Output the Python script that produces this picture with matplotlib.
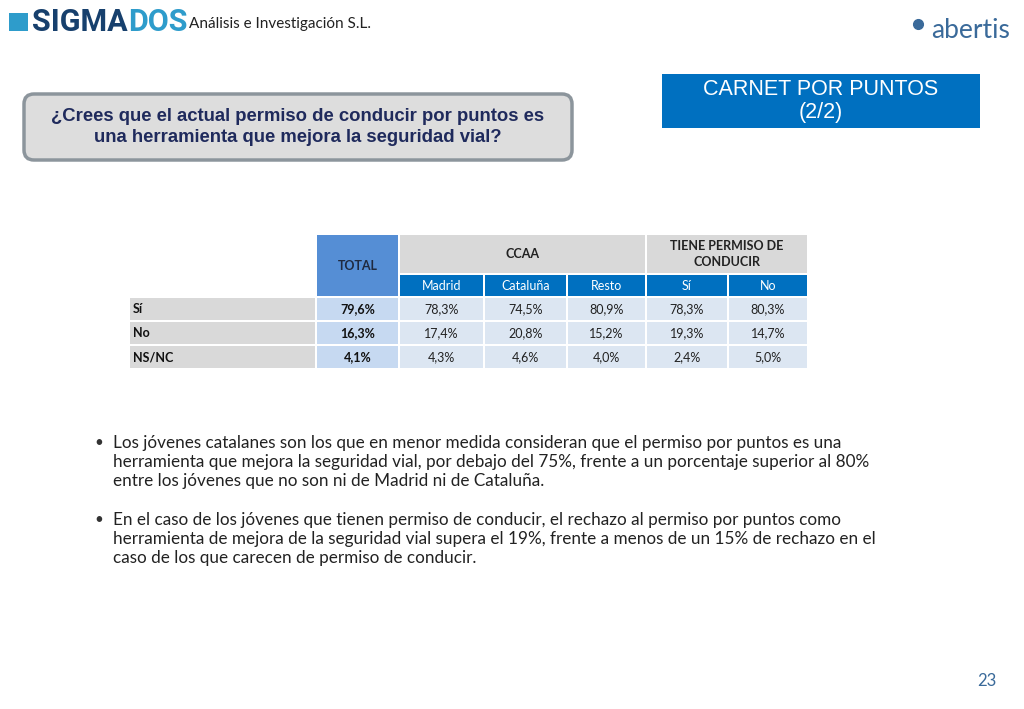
import matplotlib
matplotlib.use("Agg")
import matplotlib.pyplot as plt
from matplotlib.patches import Rectangle, FancyBboxPatch

row_labels = ["Sí", "No", "NS/NC"]
col_labels = ["Madrid", "Cataluña", "Resto", "Sí", "No"]
total = ["79,6%", "16,3%", "4,1%"]
values = [["78,3%", "74,5%", "80,9%", "78,3%", "80,3%"],
          ["17,4%", "20,8%", "15,2%", "19,3%", "14,7%"],
          ["4,3%", "4,6%", "4,0%", "2,4%", "5,0%"]]
group_labels = ["CCAA", "TIENE PERMISO DE\nCONDUCIR"]

FONT = "Lato"
fig = plt.figure(figsize=(10.24, 7.09), dpi=100)
ax = fig.add_axes([0, 0, 1, 1])
ax.set_xlim(0, 1024); ax.set_ylim(709, 0); ax.axis("off")

def rect(x0, y0, x1, y1, c):
    ax.add_patch(Rectangle((x0, y0), x1 - x0, y1 - y0, facecolor=c, edgecolor="none"))

# Header logos
rect(9, 13, 28, 31, "#2E9CCB")
t1 = ax.text(32, 22, "SIGMA", fontsize=22, fontweight="bold", color="#17406D", va="center", family="Roboto")
fig.canvas.draw()
x_end = t1.get_window_extent().x1
t2 = ax.text(x_end, 22, "DOS", fontsize=22, fontweight="bold", color="#2E9CCB", va="center", family="Roboto")
fig.canvas.draw()
x_end2 = t2.get_window_extent().x1
ax.text(x_end2 + 2, 24, "Análisis e Investigación S.L.", fontsize=11, color="#222222", va="center", family=FONT)
ax.text(1010, 30, "abertis", fontsize=19, color="#3A6A9A", va="center", ha="right", family=FONT)
ax.plot([918], [24], "o", color="#3A6A9A", ms=7)

# Question box
ax.add_patch(FancyBboxPatch((24, 94), 548, 66, boxstyle="round,pad=0,rounding_size=10",
                            facecolor="#DDDDDD", edgecolor="#8C959C", lw=2.5))
ax.text(298, 127, "¿Crees que el actual permiso de conducir por puntos es\nuna herramienta que mejora la seguridad vial?",
        fontsize=13.3, fontweight="bold", color="#1F2A5C", ha="center", va="center",
        family="Liberation Sans", linespacing=1.25)

# Title box
rect(662, 74, 980, 128, "#0070C0")
ax.text(821, 101, "CARNET POR PUNTOS\n(2/2)", fontsize=15.5, color="white", ha="center", va="center",
        family="Liberation Sans", linespacing=1.1)

# Table geometry
xs = [(130, 315), (317, 398), (400, 483), (485, 566), (568, 645), (647, 727), (729, 807)]
rows_y = [(298, 320), (322, 344), (346, 368)]
fs = 9
rect(317, 235, 398, 296, "#558ED5")
ax.text(357.5, 266, "TOTAL", fontsize=fs, fontweight="bold", color="#1F2A40", ha="center", va="center", family=FONT)
rect(400, 235, 645, 273, "#D9D9D9")
ax.text(522, 254, group_labels[0], fontsize=fs, fontweight="bold", color="#222222", ha="center", va="center", family=FONT)
rect(647, 235, 807, 273, "#D9D9D9")
ax.text(727, 254, group_labels[1], fontsize=fs, fontweight="bold", color="#222222", ha="center", va="center",
        family=FONT, linespacing=1.4)
for j, lab in enumerate(col_labels):
    x0, x1 = xs[j + 2]
    rect(x0, 275, x1, 296, "#0070C0")
    ax.text((x0 + x1) / 2, 285.5, lab, fontsize=fs, color="white", ha="center", va="center", family=FONT)
for i, lab in enumerate(row_labels):
    y0, y1 = rows_y[i]
    yc = (y0 + y1) / 2
    rect(130, y0, 315, y1, "#D9D9D9")
    ax.text(133, yc, lab, fontsize=fs, fontweight="bold", color="#111111", va="center", family=FONT)
    rect(317, y0, 398, y1, "#C6D9F1")
    ax.text(357.5, yc, total[i], fontsize=fs, fontweight="bold", color="#111111", ha="center", va="center", family=FONT)
    for j, v in enumerate(values[i]):
        x0, x1 = xs[j + 2]
        rect(x0, y0, x1, y1, "#DCE6F2")
        ax.text((x0 + x1) / 2, yc, v, fontsize=fs, color="#222222", ha="center", va="center", family=FONT)

# Bullets
para1 = ["Los jóvenes catalanes son los que en menor medida consideran que el permiso por puntos es una",
         "herramienta que mejora la seguridad vial, por debajo del 75%, frente a un porcentaje superior al 80%",
         "entre los jóvenes que no son ni de Madrid ni de Cataluña."]
para2 = ["En el caso de los jóvenes que tienen permiso de conducir, el rechazo al permiso por puntos como",
         "herramienta de mejora de la seguridad vial supera el 19%, frente a menos de un 15% de rechazo en el",
         "caso de los que carecen de permiso de conducir."]
for y0, para in [(443, para1), (520, para2)]:
    ax.text(94, y0, "•", fontsize=11, color="#333333", va="center", family=FONT)
    for k, line in enumerate(para):
        ax.text(113, y0 + k * 19, line, fontsize=12.3, color="#222222", va="center", family=FONT)

ax.text(996, 681, "23", fontsize=12, color="#3A6A9A", ha="right", va="center", family=FONT)
fig.savefig("out.png", dpi=100)
